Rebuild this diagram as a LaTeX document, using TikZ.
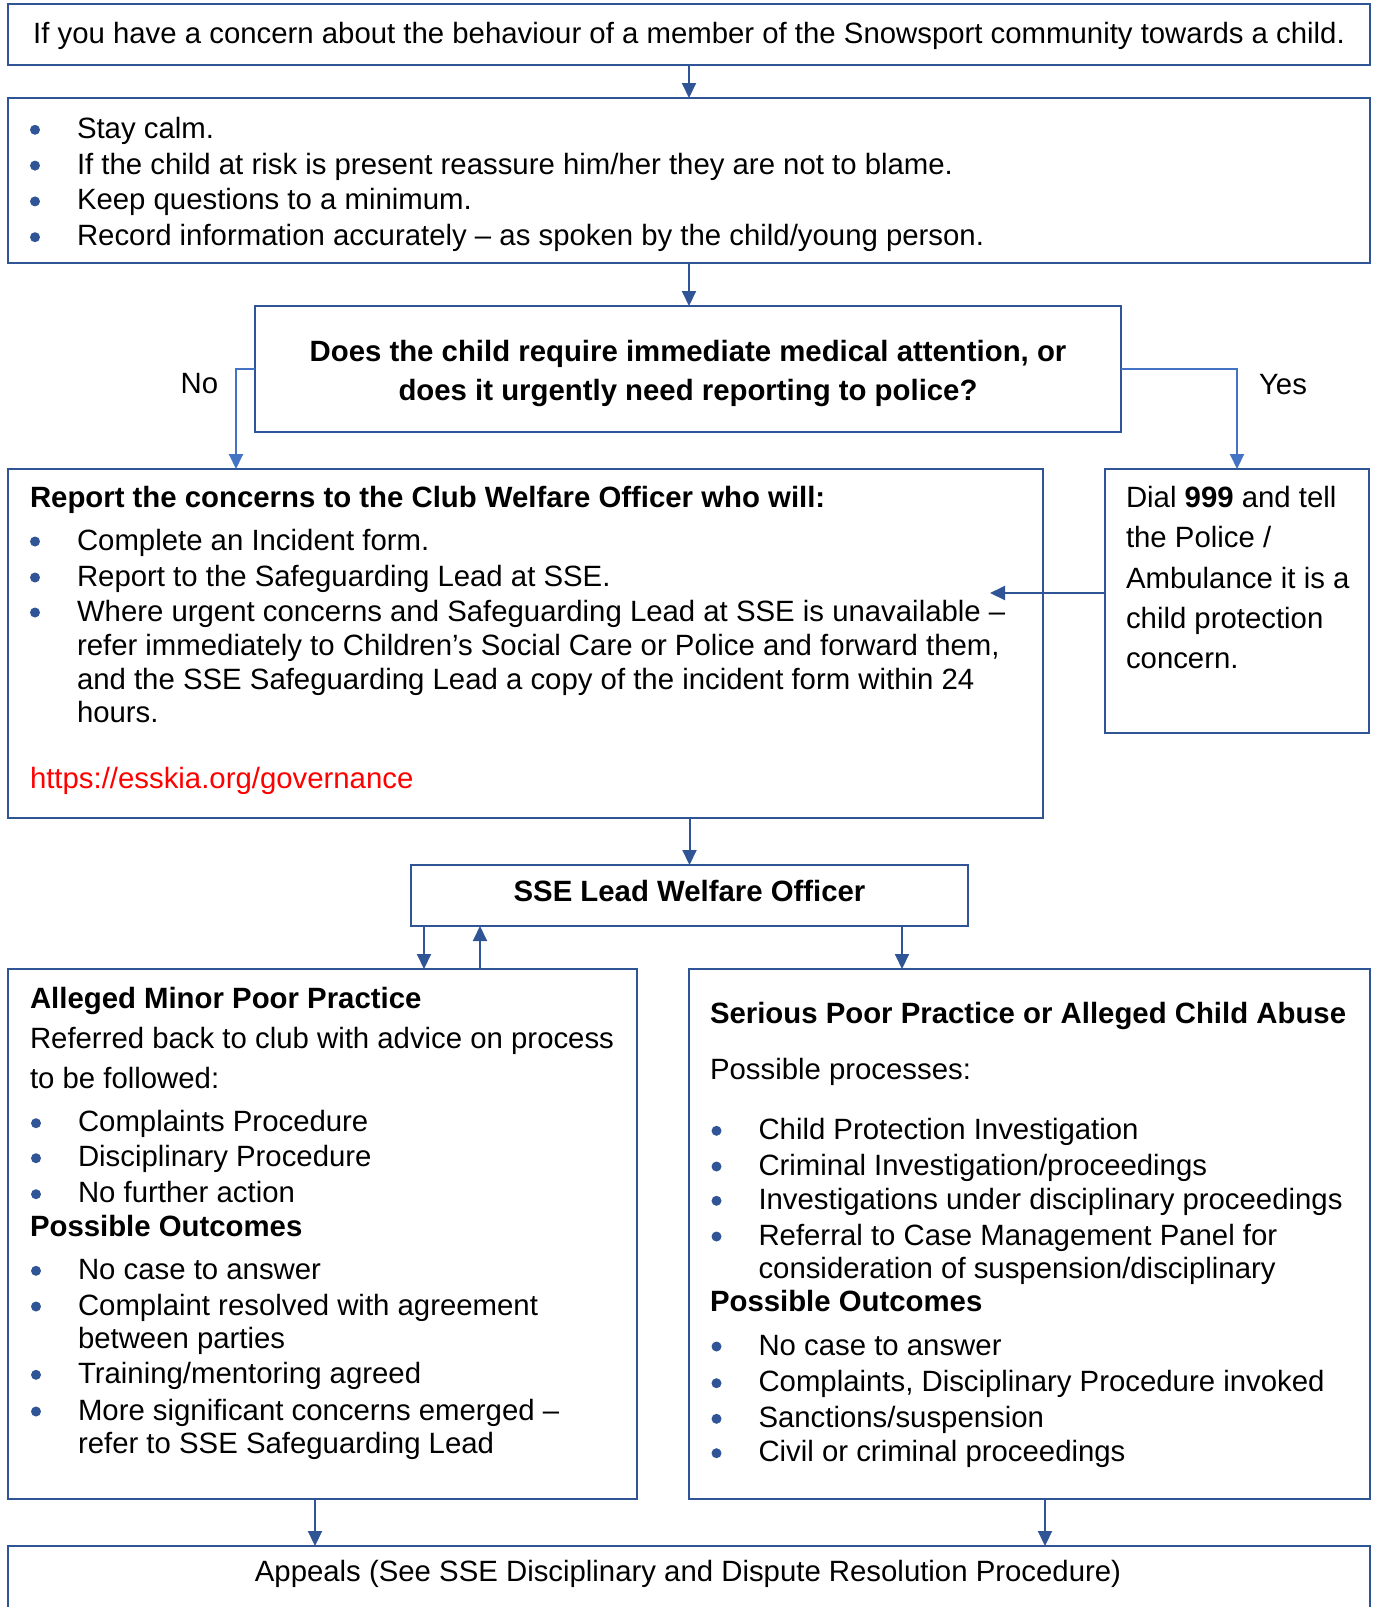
\documentclass[tikz,border=0pt]{standalone}
\usepackage{fontspec}
\setmainfont{Liberation Sans}
\usetikzlibrary{arrows.meta,calc}
\definecolor{boxblue}{HTML}{2F5597}
\definecolor{lightblue}{HTML}{4472C4}
\definecolor{linkred}{HTML}{FF0000}
\newcommand\fs{\fontsize{29.35pt}{34pt}\selectfont}
\newcommand\blt[4]{%
  \fill[boxblue] (#1,#2-8.5) circle (5pt);
  \node[txt] (#3) at (#1+42,#2) {#4};}
\tikzset{
  box/.style={draw=boxblue, line width=2pt, rectangle, inner sep=0pt, outer sep=0pt, anchor=north west},
  txt/.style={anchor=base west, inner sep=0pt, outer sep=0pt, font=\fs},
  btxt/.style={anchor=base west, inner sep=0pt, outer sep=0pt, font=\fs\bfseries},
  ctxt/.style={anchor=base, inner sep=0pt, outer sep=0pt, font=\fs},
  cbtxt/.style={anchor=base, inner sep=0pt, outer sep=0pt, font=\fs\bfseries},
  arr/.style={draw=boxblue, line width=2pt, -{Triangle[width=14pt,length=15pt]}},
  arrl/.style={draw=lightblue, line width=2pt, -{Triangle[width=14pt,length=15pt]}}
}
\begin{document}
\begin{tikzpicture}[x=1pt,y=-1pt]
\useasboundingbox (0,0) rectangle (1375,1607);
\clip (0,0) rectangle (1375,1607);
% boxes
\node[box, minimum width=1362pt, minimum height=61pt] (b1) at (8,4) {};
\node[box, minimum width=1362pt, minimum height=165pt] (b2) at (8,98) {};
\node[box, minimum width=866pt, minimum height=126pt] (b3) at (255,306) {};
\node[box, minimum width=1035pt, minimum height=349pt] (b4) at (8,469) {};
\node[box, minimum width=264pt, minimum height=264pt] (b5) at (1105,469) {};
\node[box, minimum width=557pt, minimum height=61pt] (b6) at (411,865) {};
\node[box, minimum width=629pt, minimum height=530pt] (b7) at (8,969) {};
\node[box, minimum width=681pt, minimum height=530pt] (b8) at (689,969) {};
\node[box, minimum width=1362pt, minimum height=100pt] (b9) at (8,1546) {};
% box 1
\node[ctxt] (t1) at (689,43) {If you have a concern about the behaviour of a member of the Snowsport community towards a child.};
% box 2
\blt{35}{138.3}{t2a}{Stay calm.}
\blt{35}{174.1}{t2b}{If the child at risk is present reassure him/her they are not to blame.}
\blt{35}{209.9}{t2c}{Keep questions to a minimum.}
\blt{35}{245.7}{t2d}{Record information accurately – as spoken by the child/young person.}
% box 3
\node[cbtxt] (t3a) at (688,361) {Does the child require immediate medical attention, or};
\node[cbtxt] (t3b) at (688,400) {does it urgently need reporting to police?};
\node[ctxt] (lno) at (199.5,393) {No};
\node[ctxt] (lyes) at (1283,394) {Yes};
% box 4
\node[btxt] (t4h) at (30,507.3) {Report the concerns to the Club Welfare Officer who will:};
\blt{35}{550}{t4a}{Complete an Incident form.}
\blt{35}{586}{t4b}{Report to the Safeguarding Lead at SSE.}
\blt{35}{621}{t4c}{Where urgent concerns and Safeguarding Lead at SSE is unavailable –}
\node[txt] (t4d) at (77,655) {refer immediately to Children’s Social Care or Police and forward them,};
\node[txt] (t4e) at (77,689) {and the SSE Safeguarding Lead a copy of the incident form within 24};
\node[txt] (t4f) at (77,722) {hours.};
\node[txt, text=linkred] (t4l) at (30,788) {https://esskia.org/governance};
% box 5
\node[txt] (t5a) at (1126,507) {Dial \textbf{999} and tell};
\node[txt] (t5b) at (1126,547.5) {the Police /};
\node[txt] (t5c) at (1126,588) {Ambulance it is a};
\node[txt] (t5d) at (1126,628) {child protection};
\node[txt] (t5e) at (1126,668.5) {concern.};
% box 6
\node[cbtxt] (t6) at (689.5,901.7) {SSE Lead Welfare Officer};
% box 7
\node[btxt] (t7h) at (30,1008.3) {Alleged Minor Poor Practice};
\node[txt] (t7a) at (30,1048.3) {Referred back to club with advice on process};
\node[txt] (t7b) at (30,1088.3) {to be followed:};
\blt{36}{1131.7}{t7c}{Complaints Procedure}
\blt{36}{1166.7}{t7d}{Disciplinary Procedure}
\blt{36}{1202.7}{t7e}{No further action}
\node[btxt] (t7o) at (30,1236.7) {Possible Outcomes};
\blt{36}{1279.3}{t7f}{No case to answer}
\blt{36}{1315}{t7g}{Complaint resolved with agreement}
\node[txt] (t7h2) at (78,1348.3) {between parties};
\blt{36}{1383.3}{t7i}{Training/mentoring agreed}
\blt{36}{1420}{t7j}{More significant concerns emerged –}
\node[txt] (t7k) at (78,1453.3) {refer to SSE Safeguarding Lead};
% box 8
\node[btxt] (t8h) at (710,1023.3) {Serious Poor Practice or Alleged Child Abuse};
\node[txt] (t8a) at (710,1079.3) {Possible processes:};
\blt{716.5}{1139.3}{t8b}{Child Protection Investigation}
\blt{716.5}{1175}{t8c}{Criminal Investigation/proceedings}
\blt{716.5}{1209.3}{t8d}{Investigations under disciplinary proceedings}
\blt{716.5}{1245}{t8e}{Referral to Case Management Panel for}
\node[txt] (t8f) at (758.5,1278.3) {consideration of suspension/disciplinary};
\node[btxt] (t8o) at (710,1311.7) {Possible Outcomes};
\blt{716.5}{1355}{t8g}{No case to answer}
\blt{716.5}{1391.7}{t8h2}{Complaints, Disciplinary Procedure invoked}
\blt{716.5}{1427.3}{t8i}{Sanctions/suspension}
\blt{716.5}{1461.7}{t8j}{Civil or criminal proceedings}
% box 9
\node[ctxt] (t9) at (688,1581.7) {Appeals (See SSE Disciplinary and Dispute Resolution Procedure)};
% connectors
\coordinate (dialend) at (990,593);
\draw[arr] (b1.south) -- (b2.north);
\draw[arr] (b2.south) -- (b2.south |- b3.north);
\draw[arrl] (b3.west) -| ([xshift=228pt]b4.north west);
\draw[arrl] (b3.east) -| (b5.north);
\draw[arr] ([yshift=8pt]b5.west) -- (dialend);
\draw[arr] (b6.north |- b4.south) -- (b6.north);
\draw[arr] (424,0 |- b6.south) -- (424,0 |- b7.north);
\draw[arr] (480,0 |- b7.north) -- (480,0 |- b6.south);
\draw[arr] (902,0 |- b6.south) -- (902,0 |- b8.north);
\draw[arr] (315,0 |- b7.south) -- (315,0 |- b9.north);
\draw[arr] (1045,0 |- b8.south) -- (1045,0 |- b9.north);
\end{tikzpicture}
\end{document}
